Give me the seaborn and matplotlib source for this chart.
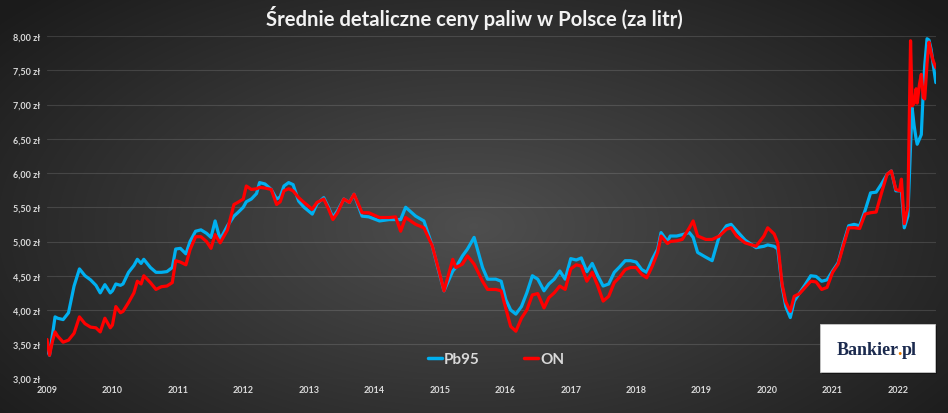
import numpy as np
import pandas as pd
import seaborn as sns
import matplotlib.pyplot as plt
from matplotlib.patches import Rectangle
from matplotlib.ticker import FuncFormatter, MultipleLocator
import matplotlib.dates as mdates

# średnie ceny (zł/l)
dates = [
    "2009-01-01", "2009-01-15", "2009-02-01", "2009-02-15", "2009-03-01", "2009-04-01",
    "2009-05-01", "2009-06-01", "2009-07-01", "2009-08-01", "2009-09-01", "2009-10-01",
    "2009-10-25", "2009-11-20", "2009-12-20",
    "2010-01-01", "2010-01-20", "2010-02-15", "2010-03-01", "2010-04-01", "2010-05-01",
    "2010-05-20", "2010-06-10", "2010-06-25", "2010-08-01", "2010-09-01", "2010-10-01",
    "2010-11-01", "2010-12-01", "2010-12-20",
    "2011-01-15", "2011-02-15", "2011-03-10", "2011-04-10", "2011-05-10", "2011-06-10",
    "2011-07-05", "2011-07-28", "2011-08-25", "2011-10-05", "2011-11-10", "2011-12-01",
    "2012-01-01", "2012-01-18", "2012-02-15", "2012-03-15", "2012-04-01", "2012-05-01",
    "2012-06-05", "2012-07-05", "2012-07-25", "2012-08-15", "2012-09-10", "2012-10-05",
    "2012-11-05", "2012-12-05",
    "2013-01-20", "2013-02-15", "2013-03-25", "2013-04-20", "2013-05-15", "2013-06-10",
    "2013-07-15", "2013-08-15", "2013-09-10", "2013-10-25", "2013-12-01",
    "2014-01-30", "2014-03-25", "2014-04-30", "2014-05-28", "2014-06-25", "2014-08-20",
    "2014-10-05", "2014-11-20", "2014-12-28",
    "2015-01-25", "2015-03-15", "2015-04-01", "2015-05-08", "2015-06-05", "2015-07-12",
    "2015-08-28", "2015-09-25", "2015-11-10", "2015-12-10",
    "2016-01-05", "2016-02-01", "2016-03-01", "2016-04-01", "2016-05-01", "2016-06-01",
    "2016-07-01", "2016-08-05", "2016-09-01", "2016-10-01", "2016-11-01", "2016-12-01",
    "2017-01-01", "2017-02-01", "2017-03-01", "2017-04-01", "2017-05-01", "2017-06-01",
    "2017-07-01", "2017-08-01", "2017-09-01", "2017-10-01", "2017-11-01", "2017-12-01",
    "2018-01-01", "2018-02-01", "2018-03-01", "2018-04-01", "2018-05-01", "2018-05-20",
    "2018-06-25", "2018-07-10", "2018-08-15", "2018-09-15", "2018-10-25", "2018-11-15",
    "2018-12-10",
    "2019-01-25", "2019-03-01", "2019-04-10", "2019-05-20", "2019-06-15", "2019-07-15",
    "2019-09-01", "2019-11-01", "2019-12-15",
    "2020-01-05", "2020-02-10", "2020-03-01", "2020-03-25", "2020-04-15", "2020-05-10",
    "2020-06-01", "2020-07-01", "2020-08-01", "2020-09-01", "2020-10-01", "2020-11-01",
    "2020-12-01",
    "2021-01-01", "2021-02-01", "2021-03-01", "2021-04-01", "2021-05-01", "2021-06-01",
    "2021-07-01", "2021-08-01", "2021-09-01", "2021-10-01", "2021-11-01", "2021-11-25",
    "2021-12-20",
    "2022-01-10", "2022-01-20", "2022-02-05", "2022-02-25", "2022-03-12", "2022-03-21",
    "2022-04-01", "2022-04-12", "2022-04-18", "2022-05-01", "2022-05-11", "2022-05-22",
    "2022-05-30", "2022-06-12", "2022-06-23", "2022-07-05", "2022-07-16", "2022-07-31",
]

pb95 = [
    3.42, 3.34, 3.65, 3.90, 3.88, 3.86, 3.96, 4.35, 4.60, 4.50, 4.44, 4.36, 4.25, 4.37, 4.25,
    4.28, 4.38, 4.36, 4.38, 4.55, 4.65, 4.74, 4.68, 4.74, 4.62, 4.55, 4.55, 4.56, 4.62, 4.89,
    4.90, 4.82, 5.00, 5.15, 5.17, 5.12, 5.06, 5.30, 5.03, 5.23, 5.37, 5.42,
    5.50, 5.58, 5.62, 5.70, 5.86, 5.84, 5.76, 5.62, 5.65, 5.81, 5.86, 5.83, 5.59, 5.50,
    5.40, 5.55, 5.64, 5.50, 5.35, 5.45, 5.62, 5.57, 5.69, 5.37, 5.36,
    5.30, 5.32, 5.32, 5.32, 5.50, 5.37, 5.30, 4.94, 4.55,
    4.28, 4.57, 4.62, 4.79, 4.89, 5.06, 4.62, 4.45, 4.45, 4.42,
    4.15, 4.00, 3.94, 4.05, 4.25, 4.50, 4.45, 4.28, 4.38, 4.45, 4.57, 4.45,
    4.75, 4.73, 4.76, 4.56, 4.68, 4.50, 4.35, 4.38, 4.55, 4.63, 4.72, 4.72,
    4.70, 4.59, 4.55, 4.74, 4.89, 5.13, 5.00, 5.08, 5.08, 5.10, 5.13, 5.06, 4.84,
    4.77, 4.72, 5.08, 5.23, 5.25, 5.16, 5.02, 4.91, 4.93,
    4.95, 4.93, 4.89, 4.35, 4.05, 3.89, 4.13, 4.25, 4.37, 4.50, 4.49, 4.42, 4.44,
    4.57, 4.69, 4.96, 5.23, 5.25, 5.23, 5.45, 5.71, 5.72, 5.84, 5.98, 6.03, 5.74,
    5.74, 5.75, 5.20, 5.37, 6.40, 6.95, 6.69, 6.50, 6.42, 6.50, 6.56, 7.20,
    7.57, 7.96, 7.94, 7.80, 7.59, 7.32,
]

on = [
    3.57, 3.34, 3.55, 3.68, 3.62, 3.53, 3.56, 3.66, 3.90, 3.80, 3.75, 3.74, 3.68, 3.88, 3.74,
    3.78, 4.05, 3.96, 3.98, 4.11, 4.25, 4.42, 4.38, 4.50, 4.40, 4.30, 4.34, 4.35, 4.40, 4.72,
    4.70, 4.66, 4.88, 5.07, 5.07, 5.00, 4.90, 5.10, 4.98, 5.17, 5.54, 5.57,
    5.62, 5.81, 5.76, 5.77, 5.79, 5.78, 5.76, 5.54, 5.58, 5.74, 5.77, 5.74, 5.64, 5.57,
    5.47, 5.57, 5.62, 5.48, 5.32, 5.42, 5.62, 5.57, 5.69, 5.42, 5.42,
    5.35, 5.35, 5.36, 5.15, 5.35, 5.25, 5.20, 4.94, 4.57,
    4.28, 4.74, 4.62, 4.67, 4.79, 4.67, 4.42, 4.30, 4.30, 4.28,
    4.02, 3.76, 3.69, 3.88, 4.00, 4.22, 4.24, 4.03, 4.18, 4.25, 4.35, 4.30,
    4.60, 4.66, 4.64, 4.42, 4.55, 4.35, 4.13, 4.20, 4.40, 4.48, 4.59, 4.62,
    4.62, 4.52, 4.47, 4.64, 4.84, 5.08, 4.97, 5.00, 5.01, 5.03, 5.20, 5.30, 5.08,
    5.03, 5.03, 5.08, 5.18, 5.20, 5.08, 4.98, 4.93, 5.08,
    5.20, 5.11, 4.98, 4.38, 4.12, 3.98, 4.20, 4.24, 4.33, 4.42, 4.41, 4.30, 4.33,
    4.55, 4.67, 4.93, 5.20, 5.20, 5.19, 5.40, 5.42, 5.43, 5.71, 5.98, 6.03, 5.76,
    5.74, 5.91, 5.26, 5.50, 7.93, 6.98, 7.02, 7.23, 7.02, 7.30, 7.44, 7.10,
    7.08, 7.60, 7.91, 7.75, 7.64, 7.54,
]

fuels = ["Pb95", "ON"]
colors = ["#00b0f0", "#ff0000"]
title = "Średnie detaliczne ceny paliw w Polsce (za litr)"

df = pd.DataFrame({"data": pd.to_datetime(dates), "Pb95": pb95, "ON": on})
df = df.melt(id_vars="data", var_name="paliwo", value_name="cena")

sns.set_theme(style="dark")
plt.rcParams["font.family"] = ["Lato", "DejaVu Sans"]

fig = plt.figure(figsize=(9.48, 4.14), dpi=100)

# tło z gradientem
bg = fig.add_axes([0, 0, 1, 1], zorder=0)
yy, xx = np.mgrid[0:1:414j, 0:1:948j]
r = np.sqrt(((xx - 0.5) / 0.62) ** 2 + ((yy - 0.55) / 0.75) ** 2)
shade = np.clip(0.31 - 0.19 * r, 0.11, 0.31)
bg.imshow(shade, cmap="gray", vmin=0, vmax=1, aspect="auto", extent=[0, 1, 0, 1])
bg.axis("off")

ax = fig.add_axes([47 / 948, 1 - 379.5 / 414, 889 / 948, 342.5 / 414], zorder=1)
ax.patch.set_alpha(0)

sns.lineplot(data=df, x="data", y="cena", hue="paliwo", hue_order=fuels,
             palette=colors, linewidth=2.3, ax=ax)

ax.set_xlim(pd.Timestamp("2009-01-01"), pd.Timestamp("2022-08-01"))
ax.set_ylim(3, 8)
ax.yaxis.set_major_locator(MultipleLocator(0.5))
ax.yaxis.set_major_formatter(FuncFormatter(lambda v, p: f"{v:.2f}".replace(".", ",") + " zł"))
ax.xaxis.set_major_locator(mdates.YearLocator())
ax.xaxis.set_major_formatter(mdates.DateFormatter("%Y"))
ax.set_xlabel("")
ax.set_ylabel("")
for s in ax.spines.values():
    s.set_visible(False)
ax.grid(axis="y", color="white", alpha=0.13, lw=0.8)
ax.grid(axis="x", visible=False)
ax.tick_params(length=0, labelsize=6.5, colors="#d9d9d9", pad=5)
for lab in ax.get_xticklabels() + ax.get_yticklabels():
    lab.set_fontweight("bold")

handles, labels = ax.get_legend_handles_labels()
for h in handles:
    h.set_linewidth(2.5)
leg = ax.legend(handles, labels, loc="center", bbox_to_anchor=(0.505, 0.057), ncol=2,
                frameon=False, handlelength=0.95, handletextpad=0.1, columnspacing=2.9,
                prop={"weight": "bold", "size": 11})
for t in leg.get_texts():
    t.set_color("#d9d9d9")

fig.text(0.5, 1 - 18 / 414, title, ha="center", va="center", fontsize=14.6,
         fontweight="bold", color="#f2f2f2")

# logo Bankier.pl
fig.add_artist(Rectangle((822 / 948, 1 - 375 / 414), 115 / 948, 48 / 414,
                         transform=fig.transFigure, facecolor="#151515", edgecolor="none", zorder=4))
fig.add_artist(Rectangle((820 / 948, 1 - 373 / 414), 115 / 948, 48 / 414,
                         transform=fig.transFigure, facecolor="white", edgecolor="#c8c8c8",
                         lw=0.6, zorder=5))
logo_font = dict(family="Liberation Serif", fontweight="bold", fontsize=13, va="baseline", zorder=6)
lx, ly = 837 / 948, 1 - 355 / 414


def right_edge(s):
    tmp = fig.text(lx, ly, s, **logo_font)
    fig.canvas.draw()
    x = tmp.get_window_extent().x1 / fig.bbox.width
    tmp.remove()
    return x


x_dot = right_edge("Bankier.")
x_end = right_edge("Bankier.pl")
fig.text(lx, ly, "Bankier", color="#1b2a4e", **logo_font)
fig.text(x_dot, ly, ".", color="#f07d00", ha="right", **logo_font)
fig.text(x_end, ly, "pl", color="#1b2a4e", ha="right", **logo_font)

fig.savefig("out.png", dpi=100)
